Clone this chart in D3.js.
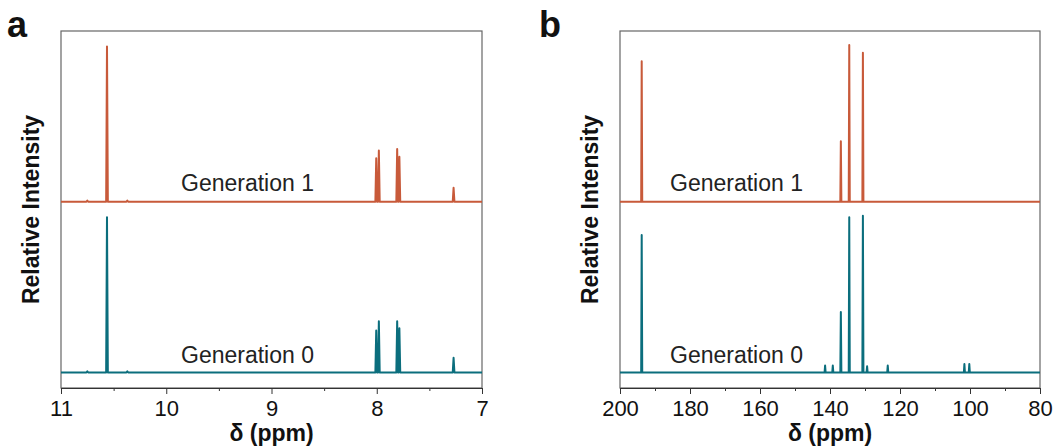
<!DOCTYPE html>
<html>
<head>
<meta charset="utf-8">
<script src="https://cdn.jsdelivr.net/npm/d3@7"></script>
<style>
  body { margin: 0; background: #fff; }
  text { font-family: "Liberation Sans", Arial, sans-serif; }
</style>
</head>
<body>
<div id="chart"></div>
<script>
// 1H NMR (panel a)
var hTicks = [11, 10, 9, 8, 7];
var hGen1Ppm = [10.75, 10.563, 10.37, 8.005, 7.98, 7.806, 7.785, 7.27];
var hGen1Int = [0.008, 1.0, 0.008, 0.28, 0.33, 0.34, 0.29, 0.09];
var hGen0Ppm = [10.75, 10.563, 10.37, 8.005, 7.98, 7.806, 7.785, 7.27];
var hGen0Int = [0.008, 1.0, 0.008, 0.27, 0.33, 0.33, 0.285, 0.095];

// 13C NMR (panel b)
var cTicks = [200, 180, 160, 140, 120, 100, 80];
var cGen1Ppm = [193.8, 136.9, 134.5, 130.6];
var cGen1Int = [0.905, 0.39, 1.01, 0.96];
var cGen0Ppm = [193.8, 141.4, 139.2, 136.9, 134.5, 130.6, 129.4, 123.5, 101.6, 100.2];
var cGen0Int = [0.886, 0.045, 0.045, 0.39, 1.0, 1.01, 0.04, 0.045, 0.055, 0.055];

var labels = ["Generation 1", "Generation 0"];
var colors = ["#c85a3a", "#0b6e7d"];
var offsets = [1.1, 0];

var W = 1056, H = 448;
var svg = d3.select("#chart").append("svg")
    .attr("width", W)
    .attr("height", H);

var plotTop = 31, plotBottom = 388;

function spectrum(ppm, inten, hw) {
  var pts = [];
  ppm.forEach(function(p, i) {
    pts.push([p + hw, 0]);
    pts.push([p, inten[i]]);
    pts.push([p - hw, 0]);
  });
  return pts;
}

function panel(opts) {
  var x = d3.scaleLinear().domain(opts.domain).range([opts.left, opts.right]);
  var y = d3.scaleLinear().domain([-0.1, 2.2]).range([plotBottom, plotTop]);
  var g = svg.append("g");

  // frame
  g.append("rect")
    .attr("x", opts.left).attr("y", plotTop)
    .attr("width", opts.right - opts.left).attr("height", plotBottom - plotTop)
    .attr("fill", "none").attr("stroke", "#666").attr("stroke-width", 1.2);

  // spectra
  var line = d3.line()
    .x(function(d) { return x(d[0]); })
    .y(function(d) { return d[1]; });
  opts.series.forEach(function(s, k) {
    var pts = [[opts.domain[0], 0]].concat(spectrum(s.ppm, s.int, opts.hw), [[opts.domain[1], 0]]);
    var py = pts.map(function(d) { return [d[0], y(d[1] + offsets[k])]; });
    g.append("path")
      .attr("d", line(py))
      .attr("fill", "none")
      .attr("stroke", colors[k])
      .attr("stroke-width", 2)
      .attr("stroke-linejoin", "round");
    g.append("text")
      .attr("x", opts.textX)
      .attr("y", k == 0 ? 191 : 363)
      .attr("font-size", 23)
      .attr("fill", "#222")
      .text(labels[k]);
  });

  // x axis, minor then major
  var step = opts.ticks[1] - opts.ticks[0];
  var minor = opts.ticks.slice(1).map(function(t, i) { return opts.ticks[i] + step / 2; });
  g.append("g")
    .attr("transform", "translate(0," + plotBottom + ")")
    .call(d3.axisBottom(x).tickValues(minor).tickSize(3).tickFormat(""))
    .call(function(a) { a.select(".domain").remove(); a.selectAll("line").attr("stroke", "#333"); });
  var ax = g.append("g")
    .attr("transform", "translate(0," + plotBottom + ")")
    .call(d3.axisBottom(x).tickValues(opts.ticks).tickSize(6).tickSizeOuter(0).tickPadding(8).tickFormat(d3.format("d")));
  ax.select(".domain").attr("stroke", "#333").attr("stroke-width", 1.2);
  ax.selectAll("line").attr("stroke", "#333");
  ax.selectAll("text")
    .attr("font-size", 22)
    .attr("fill", "#111")
    .attr("font-family", "'Liberation Sans', Arial, sans-serif")
    .attr("dy", null)
    .attr("y", 28);

  g.append("text")
    .attr("x", (opts.left + opts.right) / 2)
    .attr("y", 441)
    .attr("text-anchor", "middle")
    .attr("font-size", 23)
    .attr("font-weight", "bold")
    .attr("fill", "#111")
    .text("δ (ppm)");

  g.append("text")
    .attr("transform", "translate(" + opts.ytitleX + "," + ((plotTop + plotBottom) / 2) + ") rotate(-90)")
    .attr("text-anchor", "middle")
    .attr("font-size", 23)
    .attr("font-weight", "bold")
    .attr("fill", "#111")
    .text("Relative Intensity");

  g.append("text")
    .attr("x", opts.tagX)
    .attr("y", 37)
    .attr("font-size", 36)
    .attr("font-weight", "bold")
    .attr("fill", "#111")
    .text(opts.tag);
}

panel({
  domain: [11, 7], left: 61, right: 482, ticks: hTicks, hw: 0.008,
  series: [{ppm: hGen1Ppm, int: hGen1Int}, {ppm: hGen0Ppm, int: hGen0Int}],
  textX: 181, ytitleX: 39, tagX: 7, tag: "a"
});
panel({
  domain: [200, 80], left: 620, right: 1040, ticks: cTicks, hw: 0.15,
  series: [{ppm: cGen1Ppm, int: cGen1Int}, {ppm: cGen0Ppm, int: cGen0Int}],
  textX: 670, ytitleX: 598, tagX: 539, tag: "b"
});
</script>
</body>
</html>
